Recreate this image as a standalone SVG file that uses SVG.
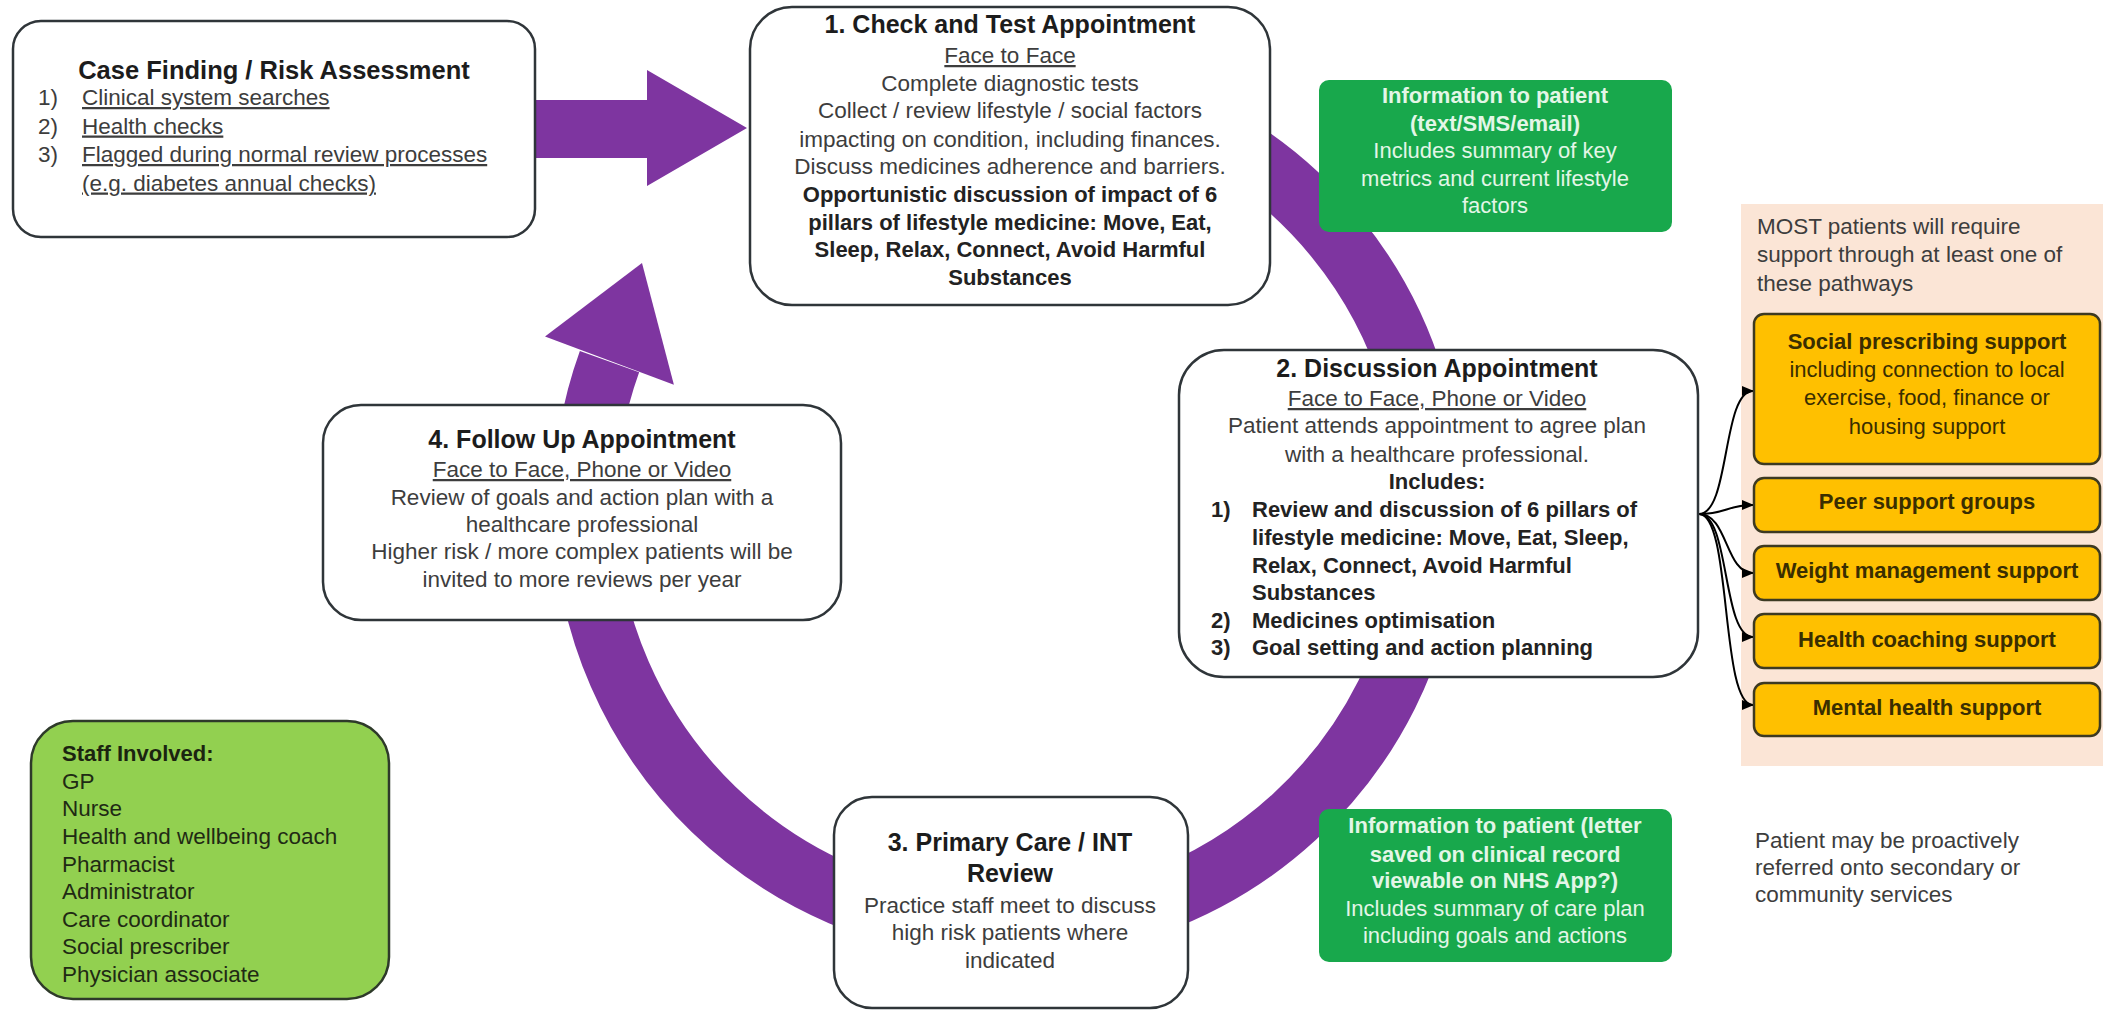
<svg xmlns="http://www.w3.org/2000/svg" width="2103" height="1012" viewBox="0 0 2103 1012">
<defs>
<style>
text { font-family: 'Liberation Sans', Arial, sans-serif; }
.box { fill:#ffffff; stroke:#2f3539; stroke-width:2.5; }
.ti { font-size:25px; font-weight:bold; fill:#1c1c1c; }
.tx { font-size:22.5px; fill:#3d3d3d; }
.bd { font-size:22px; font-weight:bold; fill:#222222; }
.c { text-anchor:middle; }
.u { text-decoration:underline; }
.gr { fill:#18a84c; }
.gt { font-size:22px; fill:#e3f6e7; text-anchor:middle; }
.gb { font-weight:bold; }
.or { fill:#ffc000; stroke:#3d3a22; stroke-width:2.5; }
.ot { font-size:22px; fill:#3a2e00; text-anchor:middle; }
.purple { fill:#7e35a0; }
.con { fill:none; stroke:#000000; stroke-width:2; marker-end:url(#ah); }
.st { font-size:22.5px; fill:#1f2a14; }
</style>
<marker id="ah" viewBox="0 0 12 12" refX="11" refY="6" markerWidth="12" markerHeight="12" orient="auto" markerUnits="userSpaceOnUse">
<path d="M0,1 L12,6 L0,11 z" fill="#000000"/>
</marker>
</defs>
<rect width="2103" height="1012" fill="#ffffff"/>

<g id="cycle-arrow">
<path d="M1219.75,138.2 A423.5,423.5 0 1 1 609.5,361.6" fill="none" stroke="#7e35a0" stroke-width="63"/>
<polygon class="purple" points="545,336.5 642,263 673.9,384.7"/>
</g>
<g id="entry-arrow">
<polygon class="purple" points="534,100 647,100 647,70 747,128 647,186 647,158 534,158"/>
</g>

<g id="pathways-panel">
<rect x="1741" y="204" width="362" height="562" fill="#fbe5d6"/>
<text class="tx" x="1757" y="234">MOST patients will require</text>
<text class="tx" x="1757" y="262">support through at least one of</text>
<text class="tx" x="1757" y="291">these pathways</text>
</g>

<g id="connectors">
<path class="con" d="M1699,514 C1730,514 1722,391 1753,391"/>
<path class="con" d="M1699,514 C1725,514 1728,505 1753,505"/>
<path class="con" d="M1699,514 C1728,514 1725,573 1753,573"/>
<path class="con" d="M1699,514 C1730,514 1722,637 1753,637"/>
<path class="con" d="M1699,514 C1732,514 1720,705 1753,705"/>
</g>

<g id="case-finding">
<rect class="box" x="13" y="21" width="522" height="216" rx="28"/>
<text class="ti c" x="274" y="79" style="font-size:25.5px">Case Finding / Risk Assessment</text>
<text class="tx" x="38" y="105">1)</text>
<text class="tx u" x="82" y="105">Clinical system searches</text>
<text class="tx" x="38" y="133.5">2)</text>
<text class="tx u" x="82" y="133.5">Health checks</text>
<text class="tx" x="38" y="162">3)</text>
<text class="tx u" x="82" y="162">Flagged during normal review processes</text>
<text class="tx u" x="82" y="190.5">(e.g. diabetes annual checks)</text>
</g>

<g id="check-test">
<rect class="box" x="750" y="7" width="520" height="298" rx="42"/>
<text class="ti c" x="1010" y="33">1. Check and Test Appointment</text>
<text class="tx c u" x="1010" y="63">Face to Face</text>
<text class="tx c" x="1010" y="91">Complete diagnostic tests</text>
<text class="tx c" x="1010" y="118">Collect / review lifestyle / social factors</text>
<text class="tx c" x="1010" y="147">impacting on condition, including finances.</text>
<text class="tx c" x="1010" y="174">Discuss medicines adherence and barriers.</text>
<text class="bd c" x="1010" y="202">Opportunistic discussion of impact of 6</text>
<text class="bd c" x="1010" y="230">pillars of lifestyle medicine: Move, Eat,</text>
<text class="bd c" x="1010" y="257">Sleep, Relax, Connect, Avoid Harmful</text>
<text class="bd c" x="1010" y="285">Substances</text>
</g>

<g id="info-1">
<rect class="gr" x="1319" y="80" width="353" height="152" rx="10"/>
<text class="gt gb" x="1495" y="103">Information to patient</text>
<text class="gt gb" x="1495" y="131">(text/SMS/email)</text>
<text class="gt" x="1495" y="158">Includes summary of key</text>
<text class="gt" x="1495" y="186">metrics and current lifestyle</text>
<text class="gt" x="1495" y="213">factors</text>
</g>

<g id="discussion">
<rect class="box" x="1179" y="350" width="519" height="327" rx="45"/>
<text class="ti c" x="1437" y="377">2. Discussion Appointment</text>
<text class="tx c u" x="1437" y="406">Face to Face, Phone or Video</text>
<text class="tx c" x="1437" y="433">Patient attends appointment to agree plan</text>
<text class="tx c" x="1437" y="462">with a healthcare professional.</text>
<text class="bd c" x="1437" y="489">Includes:</text>
<text class="bd" x="1211" y="517">1)</text>
<text class="bd" x="1252" y="517">Review and discussion of 6 pillars of</text>
<text class="bd" x="1252" y="545">lifestyle medicine: Move, Eat, Sleep,</text>
<text class="bd" x="1252" y="573">Relax, Connect, Avoid Harmful</text>
<text class="bd" x="1252" y="600">Substances</text>
<text class="bd" x="1211" y="628">2)</text>
<text class="bd" x="1252" y="628">Medicines optimisation</text>
<text class="bd" x="1211" y="655">3)</text>
<text class="bd" x="1252" y="655">Goal setting and action planning</text>
</g>

<g id="follow-up">
<rect class="box" x="323" y="405" width="518" height="215" rx="38"/>
<text class="ti c" x="582" y="448">4. Follow Up Appointment</text>
<text class="tx c u" x="582" y="477">Face to Face, Phone or Video</text>
<text class="tx c" x="582" y="505">Review of goals and action plan with a</text>
<text class="tx c" x="582" y="532">healthcare professional</text>
<text class="tx c" x="582" y="559">Higher risk / more complex patients will be</text>
<text class="tx c" x="582" y="587">invited to more reviews per year</text>
</g>

<g id="int-review">
<rect class="box" x="834" y="797" width="354" height="211" rx="38"/>
<text class="ti c" x="1010" y="851">3. Primary Care / INT</text>
<text class="ti c" x="1010" y="882">Review</text>
<text class="tx c" x="1010" y="913">Practice staff meet to discuss</text>
<text class="tx c" x="1010" y="940">high risk patients where</text>
<text class="tx c" x="1010" y="968">indicated</text>
</g>

<g id="info-2">
<rect class="gr" x="1319" y="809" width="353" height="153" rx="10"/>
<text class="gt gb" x="1495" y="833">Information to patient (letter</text>
<text class="gt gb" x="1495" y="862">saved on clinical record</text>
<text class="gt gb" x="1495" y="888">viewable on NHS App?)</text>
<text class="gt" x="1495" y="916">Includes summary of care plan</text>
<text class="gt" x="1495" y="943">including goals and actions</text>
</g>

<g id="referral-note">
<text class="tx" x="1755" y="848">Patient may be proactively</text>
<text class="tx" x="1755" y="875">referred onto secondary or</text>
<text class="tx" x="1755" y="902">community services</text>
</g>

<g id="staff">
<rect x="31" y="721" width="358" height="278" rx="42" fill="#92d050" stroke="#2e3a2a" stroke-width="2.5"/>
<text class="bd" x="62" y="761" style="fill:#1b2410">Staff Involved:</text>
<text class="st" x="62" y="789">GP</text>
<text class="st" x="62" y="816">Nurse</text>
<text class="st" x="62" y="844">Health and wellbeing coach</text>
<text class="st" x="62" y="872">Pharmacist</text>
<text class="st" x="62" y="899">Administrator</text>
<text class="st" x="62" y="927">Care coordinator</text>
<text class="st" x="62" y="954">Social prescriber</text>
<text class="st" x="62" y="982">Physician associate</text>
</g>

<g id="social-prescribing">
<rect class="or" x="1754" y="314" width="346" height="150" rx="10"/>
<text class="ot gb" x="1927" y="349">Social prescribing support</text>
<text class="ot" x="1927" y="377">including connection to local</text>
<text class="ot" x="1927" y="405">exercise, food, finance or</text>
<text class="ot" x="1927" y="434">housing support</text>
</g>
<g id="peer-support">
<rect class="or" x="1754" y="478" width="346" height="54" rx="10"/>
<text class="ot gb" x="1927" y="509">Peer support groups</text>
</g>
<g id="weight-management">
<rect class="or" x="1754" y="546" width="346" height="54" rx="10"/>
<text class="ot gb" x="1927" y="578">Weight management support</text>
</g>
<g id="health-coaching">
<rect class="or" x="1754" y="614" width="346" height="54" rx="10"/>
<text class="ot gb" x="1927" y="647">Health coaching support</text>
</g>
<g id="mental-health">
<rect class="or" x="1754" y="683" width="346" height="53" rx="10"/>
<text class="ot gb" x="1927" y="715">Mental health support</text>
</g>
</svg>
